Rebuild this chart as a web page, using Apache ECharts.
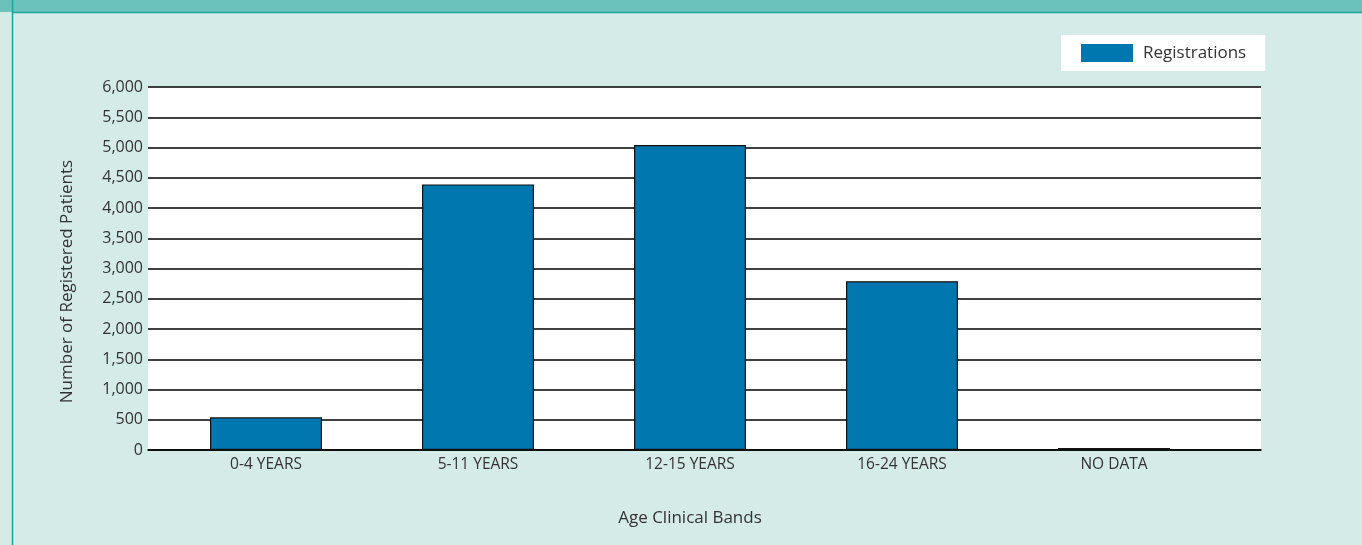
<!DOCTYPE html>
<html>
<head>
<meta charset="utf-8">
<script src="https://cdn.jsdelivr.net/npm/echarts@6/dist/echarts.min.js"></script>
<style>
  html, body { margin: 0; padding: 0; background: #d5ebe8; }
  #chart { width: 1362px; height: 545px; }
</style>
</head>
<body>
<div id="chart"></div>
<script>
// Patient registrations by age clinical band
const categories = ['0-4 YEARS', '5-11 YEARS', '12-15 YEARS', '16-24 YEARS', 'NO DATA'];
const registrations = [540, 4390, 5040, 2790, 35];
const seriesName = 'Registrations';
const yAxisTitle = 'Number of Registered Patients';
const xAxisTitle = 'Age Clinical Bands';
const yMin = 0, yMax = 6000, yStep = 500;

const FONT = '"Open Sans", "Noto Sans", sans-serif';
const TEXT = '#333333';
const chart = echarts.init(document.getElementById('chart'), null, { renderer: 'canvas' });

chart.setOption({
  backgroundColor: '#d5ebe8',
  textStyle: { fontFamily: FONT },
  graphic: [
    // header band and panel border
    { type: 'rect', shape: { x: 0, y: 0, width: 1362, height: 12 }, style: { fill: '#6bc2bd' }, silent: true, z: -10 },
    { type: 'line', shape: { x1: 12.5, y1: 12.5, x2: 1362, y2: 12.5 }, style: { stroke: '#1ea59b', lineWidth: 1.5 }, silent: true },
    { type: 'line', shape: { x1: 12.5, y1: 0, x2: 12.5, y2: 545 }, style: { stroke: '#1ea59b', lineWidth: 1.5 }, silent: true }
  ],
  legend: {
    data: [{ name: seriesName, icon: 'rect' }],
    left: 1061,
    top: 35,
    backgroundColor: '#ffffff',
    padding: [9, 19, 9, 20],
    itemWidth: 52,
    itemHeight: 18,
    itemStyle: { borderWidth: 0 },
    textStyle: { fontSize: 17, color: TEXT, fontFamily: FONT, padding: [0, 0, 0, 5] }
  },
  grid: [
    // plotting panel: white background, value gridlines and baseline
    { left: 148, right: 101, top: 87, bottom: 95, show: true, backgroundColor: '#ffffff', borderWidth: 0 },
    // category band for the bars
    { left: 160, right: 142, top: 87, bottom: 95 }
  ],
  xAxis: [
    {
      gridIndex: 0,
      type: 'value',
      min: 0,
      max: 1,
      axisLine: { show: true, lineStyle: { color: '#000000', width: 1.5 } },
      axisTick: { show: false },
      axisLabel: { show: false },
      splitLine: { show: false }
    },
    {
      gridIndex: 1,
      type: 'category',
      data: categories,
      name: xAxisTitle,
      nameLocation: 'middle',
      nameGap: 60,
      nameTextStyle: { fontSize: 17, color: TEXT, fontFamily: FONT },
      axisLine: { show: false },
      axisTick: { show: false },
      axisLabel: { fontSize: 15.5, color: TEXT, margin: 7, fontFamily: FONT }
    }
  ],
  yAxis: [
    {
      gridIndex: 0,
      type: 'value',
      min: yMin,
      max: yMax,
      interval: yStep,
      name: yAxisTitle,
      nameLocation: 'middle',
      nameGap: 72,
      nameTextStyle: { fontSize: 17, color: TEXT, fontFamily: FONT, padding: [0, 26, 0, 0] },
      axisLine: { show: false },
      axisTick: { show: false },
      axisLabel: {
        fontSize: 16,
        color: TEXT,
        margin: 5,
        fontFamily: FONT,
        formatter: v => v.toLocaleString('en-US')
      },
      splitLine: { lineStyle: { color: '#000000', width: 1.5 } }
    },
    {
      gridIndex: 1,
      type: 'value',
      min: yMin,
      max: yMax,
      interval: yStep,
      show: false,
      splitLine: { show: false }
    }
  ],
  series: [{
    name: seriesName,
    type: 'bar',
    xAxisIndex: 1,
    yAxisIndex: 1,
    data: registrations,
    barWidth: 112,
    itemStyle: { color: '#0077ae', borderColor: '#111111', borderWidth: 1.2 }
  }]
});
</script>
</body>
</html>
